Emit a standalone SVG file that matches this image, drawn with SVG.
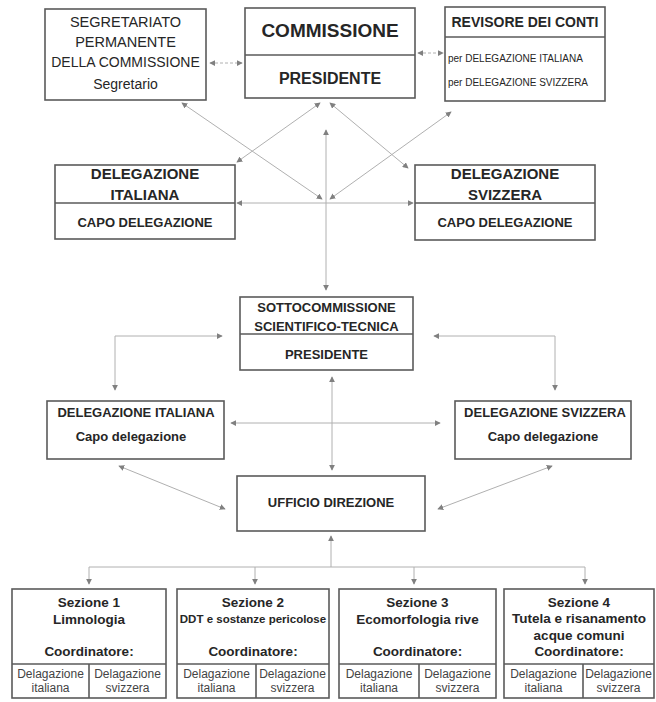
<svg xmlns="http://www.w3.org/2000/svg" width="656" height="702" viewBox="0 0 656 702">
<style>
.box{fill:#fff;stroke:#5a5a5a;stroke-width:1.6}
.div{stroke:#5a5a5a;stroke-width:1.6}
.t{font-family:"Liberation Sans",Arial,sans-serif;fill:#262626;text-anchor:middle}
.b{font-weight:bold}
.r{font-weight:normal;fill:#444}
.c{fill:none;stroke:#b0b0b0;stroke-width:1}
.d{stroke-dasharray:3 2}
</style>
<defs>
<marker id="ah" viewBox="0 0 8 8" refX="7" refY="4" markerWidth="6" markerHeight="6" markerUnits="userSpaceOnUse" orient="auto-start-reverse">
<path d="M0,0 L8,4 L0,8 Z" fill="#808080"/>
</marker>
</defs>
<rect width="656" height="702" fill="#fff"/>

<g id="connectors">
<line class="c d" x1="210" y1="63" x2="242" y2="63" marker-start="url(#ah)" marker-end="url(#ah)"/>
<line class="c d" x1="418" y1="53" x2="443" y2="53" marker-start="url(#ah)" marker-end="url(#ah)"/>
<line class="c" x1="182" y1="103" x2="322" y2="199" marker-start="url(#ah)" marker-end="url(#ah)"/>
<line class="c" x1="451" y1="112" x2="330" y2="199" marker-start="url(#ah)" marker-end="url(#ah)"/>
<line class="c" x1="320" y1="103" x2="237" y2="162" marker-start="url(#ah)" marker-end="url(#ah)"/>
<line class="c" x1="330" y1="103" x2="408" y2="168" marker-start="url(#ah)" marker-end="url(#ah)"/>
<line class="c" x1="326" y1="203" x2="326" y2="130" marker-end="url(#ah)"/>
<line class="c" x1="326" y1="203" x2="326" y2="290" marker-end="url(#ah)"/>
<line class="c" x1="237" y1="203" x2="413" y2="203" marker-start="url(#ah)" marker-end="url(#ah)"/>
<path class="c" d="M222,336 H115 V390" marker-start="url(#ah)" marker-end="url(#ah)"/>
<path class="c" d="M434,336 H555 V390" marker-start="url(#ah)" marker-end="url(#ah)"/>
<line class="c" x1="332" y1="377" x2="332" y2="470" marker-start="url(#ah)" marker-end="url(#ah)"/>
<line class="c" x1="231" y1="423" x2="440" y2="423" marker-start="url(#ah)" marker-end="url(#ah)"/>
<line class="c" x1="119" y1="466" x2="225" y2="509" marker-start="url(#ah)" marker-end="url(#ah)"/>
<line class="c" x1="552" y1="466" x2="438" y2="509" marker-start="url(#ah)" marker-end="url(#ah)"/>
<line class="c" x1="331" y1="567" x2="331" y2="536" marker-end="url(#ah)"/>
<line class="c" x1="89" y1="567" x2="585" y2="567"/>
<line class="c" x1="89" y1="567" x2="89" y2="584" marker-end="url(#ah)"/>
<line class="c" x1="255" y1="567" x2="255" y2="584" marker-end="url(#ah)"/>
<line class="c" x1="414" y1="567" x2="414" y2="584" marker-end="url(#ah)"/>
<line class="c" x1="585" y1="567" x2="585" y2="584" marker-end="url(#ah)"/>
</g>

<g id="segretariato">
<rect class="box" x="45" y="9" width="161" height="91"/>
<text class="t" x="125.5" y="27" font-size="14.5">SEGRETARIATO</text>
<text class="t" x="125.5" y="47" font-size="14.5">PERMANENTE</text>
<text class="t" x="125.5" y="67" font-size="14">DELLA COMMISSIONE</text>
<text class="t" x="125.5" y="89" font-size="14">Segretario</text>
</g>

<g id="commissione">
<rect class="box" x="245" y="8" width="170" height="90"/>
<line class="div" x1="245" y1="55" x2="415" y2="55"/>
<text class="t b" x="330" y="37" font-size="19">COMMISSIONE</text>
<text class="t b" x="330" y="84" font-size="16">PRESIDENTE</text>
</g>

<g id="revisore">
<rect class="box" x="445" y="7" width="160" height="94"/>
<line class="div" x1="445" y1="37" x2="605" y2="37"/>
<text class="t b" x="525" y="27" font-size="14">REVISORE DEI CONTI</text>
<text class="t" x="448" y="62" font-size="10" style="text-anchor:start">per DELEGAZIONE ITALIANA</text>
<text class="t" x="448" y="86" font-size="10" style="text-anchor:start">per DELEGAZIONE SVIZZERA</text>
</g>

<g id="delegazione-italiana">
<rect class="box" x="55" y="165" width="180" height="74"/>
<line class="div" x1="55" y1="203" x2="235" y2="203"/>
<text class="t b" x="145" y="179" font-size="15">DELEGAZIONE</text>
<text class="t b" x="145" y="200" font-size="15">ITALIANA</text>
<text class="t b" x="145" y="227" font-size="13">CAPO DELEGAZIONE</text>
</g>

<g id="delegazione-svizzera">
<rect class="box" x="415" y="165" width="180" height="75"/>
<line class="div" x1="415" y1="203" x2="595" y2="203"/>
<text class="t b" x="505" y="179" font-size="15">DELEGAZIONE</text>
<text class="t b" x="505" y="200" font-size="15">SVIZZERA</text>
<text class="t b" x="505" y="227" font-size="13">CAPO DELEGAZIONE</text>
</g>

<g id="sottocommissione">
<rect class="box" x="240" y="297" width="173" height="73"/>
<line class="div" x1="240" y1="334" x2="413" y2="334"/>
<text class="t b" x="326.5" y="312" font-size="13">SOTTOCOMMISSIONE</text>
<text class="t b" x="326.5" y="331" font-size="13">SCIENTIFICO-TECNICA</text>
<text class="t b" x="326.5" y="359" font-size="13">PRESIDENTE</text>
</g>

<g id="delegazione-italiana-2">
<rect class="box" x="47" y="401" width="177" height="58"/>
<text class="t b" x="136" y="417" font-size="13">DELEGAZIONE ITALIANA</text>
<text class="t b" x="131" y="441" font-size="13">Capo delegazione</text>
</g>

<g id="delegazione-svizzera-2">
<rect class="box" x="455" y="401" width="176" height="58"/>
<text class="t b" x="545" y="417" font-size="13">DELEGAZIONE SVIZZERA</text>
<text class="t b" x="543" y="441" font-size="13">Capo delegazione</text>
</g>

<g id="ufficio-direzione">
<rect class="box" x="237" y="476" width="188" height="55"/>
<text class="t b" x="331" y="507" font-size="13">UFFICIO DIREZIONE</text>
</g>

<g id="sezione-1">
<rect class="box" x="12" y="589" width="154" height="109"/>
<line class="div" x1="12" y1="664" x2="166" y2="664"/>
<line class="div" x1="89" y1="664" x2="89" y2="698"/>
<text class="t b" x="89" y="607" font-size="13.5">Sezione 1</text>
<text class="t b" x="89" y="624" font-size="13.5">Limnologia</text>
<text class="t b" x="89" y="656" font-size="13.5">Coordinatore:</text>
<text class="t r" x="50.5" y="678" font-size="12">Delagazione</text>
<text class="t r" x="50.5" y="691.5" font-size="12">italiana</text>
<text class="t r" x="127.5" y="678" font-size="12">Delagazione</text>
<text class="t r" x="127.5" y="691.5" font-size="12">svizzera</text>
</g>

<g id="sezione-2">
<rect class="box" x="177" y="589" width="152" height="109"/>
<line class="div" x1="177" y1="664" x2="329" y2="664"/>
<line class="div" x1="256" y1="664" x2="256" y2="698"/>
<text class="t b" x="253" y="607" font-size="13.5">Sezione 2</text>
<text class="t b" x="253" y="623" font-size="11.5">DDT e sostanze pericolose</text>
<text class="t b" x="253" y="656" font-size="13.5">Coordinatore:</text>
<text class="t r" x="216.5" y="678" font-size="12">Delagazione</text>
<text class="t r" x="216.5" y="691.5" font-size="12">italiana</text>
<text class="t r" x="292.5" y="678" font-size="12">Delagazione</text>
<text class="t r" x="292.5" y="691.5" font-size="12">svizzera</text>
</g>

<g id="sezione-3">
<rect class="box" x="339" y="589" width="157" height="109"/>
<line class="div" x1="339" y1="664" x2="496" y2="664"/>
<line class="div" x1="419" y1="664" x2="419" y2="698"/>
<text class="t b" x="417.5" y="607" font-size="13.5">Sezione 3</text>
<text class="t b" x="417.5" y="624" font-size="13.5">Ecomorfologia rive</text>
<text class="t b" x="417.5" y="656" font-size="13.5">Coordinatore:</text>
<text class="t r" x="379" y="678" font-size="12">Delagazione</text>
<text class="t r" x="379" y="691.5" font-size="12">italiana</text>
<text class="t r" x="457.5" y="678" font-size="12">Delagazione</text>
<text class="t r" x="457.5" y="691.5" font-size="12">svizzera</text>
</g>

<g id="sezione-4">
<rect class="box" x="504" y="589" width="150" height="109"/>
<line class="div" x1="504" y1="664" x2="654" y2="664"/>
<line class="div" x1="583" y1="664" x2="583" y2="698"/>
<text class="t b" x="579" y="607" font-size="13.5">Sezione 4</text>
<text class="t b" x="579" y="623" font-size="13.5">Tutela e risanamento</text>
<text class="t b" x="579" y="640" font-size="13.5">acque comuni</text>
<text class="t b" x="579" y="655.5" font-size="13.5">Coordinatore:</text>
<text class="t r" x="543.5" y="678" font-size="12">Delagazione</text>
<text class="t r" x="543.5" y="691.5" font-size="12">italiana</text>
<text class="t r" x="618.5" y="678" font-size="12">Delagazione</text>
<text class="t r" x="618.5" y="691.5" font-size="12">svizzera</text>
</g>
</svg>
